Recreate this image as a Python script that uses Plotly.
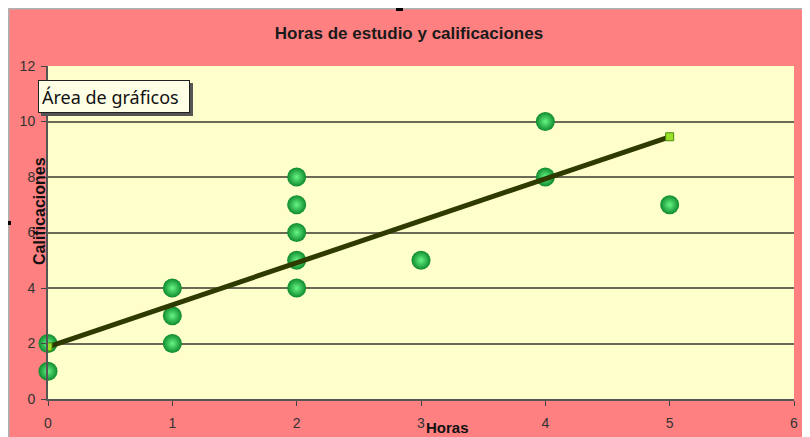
import plotly.graph_objects as go

horas = [0, 0, 1, 1, 1, 2, 2, 2, 2, 2, 3, 4, 4, 5]
calificaciones = [2, 1, 4, 3, 2, 8, 7, 6, 5, 4, 5, 10, 8, 7]
trend_x = [0, 5]
trend_y = [1.88, 9.45]
x_ticks = [0, 1, 2, 3, 4, 5, 6]
y_ticks = [0, 2, 4, 6, 8, 10, 12]

# page is offset by the default 8px body margin
O = 8
W, H = 810 - O, 437 - O
L, R, T, B = 48 - O, 16, 66 - O, 38
PW, PH = W - L - R, H - T - B

def px(x):
    return (x - O - L) / PW

def py(y):
    return (H - B - (y - O)) / PH

fig = go.Figure()

fig.add_trace(go.Scatter(
    x=horas, y=calificaciones, mode="markers",
    marker=dict(size=19, color="#0e8a2c", symbol="circle",
                gradient=dict(type="radial", color="#66f585"),
                line=dict(width=0)),
    hoverinfo="skip", showlegend=False, cliponaxis=False))

fig.add_trace(go.Scatter(
    x=trend_x, y=trend_y, mode="lines+markers",
    line=dict(color="#2e3a00", width=5),
    marker=dict(symbol="square", size=8, color="#99e028",
                line=dict(color="#4a8a10", width=1)),
    hoverinfo="skip", showlegend=False))

font_narrow = "Liberation Sans Narrow, Arial Narrow, Liberation Sans, Arial"

fig.update_layout(
    width=W, height=H,
    margin=dict(l=L, r=R, t=T, b=B, autoexpand=False),
    paper_bgcolor="#FF8080",
    plot_bgcolor="#FFFFCC",
    showlegend=False,
    title=dict(text="<b>Horas de estudio y calificaciones</b>",
               x=0.5, xanchor="center", y=1 - (33 - O) / H, yanchor="middle",
               font=dict(family=font_narrow, size=17, color="#1a1a1a")),
    xaxis=dict(range=[0, 6], tickvals=x_ticks, ticks="outside", ticklen=5,
               tickcolor="#444444", showgrid=False, zeroline=False,
               showline=True, linecolor="#555555", linewidth=2,
               ticklabelstandoff=5, automargin=False,
               tickfont=dict(family="Liberation Sans, Arial", size=14, color="#333333")),
    yaxis=dict(range=[0, 12], tickvals=y_ticks, ticks="outside", ticklen=5,
               tickcolor="#444444", showgrid=True, gridcolor="#6b6b55", gridwidth=2,
               zeroline=False, showline=True, linecolor="#555555", linewidth=2,
               ticklabelstandoff=3, automargin=False,
               tickfont=dict(family="Liberation Sans, Arial", size=14, color="#333333")),
    shapes=[
        dict(type="line", xref="paper", yref="paper", x0=px(8), x1=px(820),
             y0=py(8.5), y1=py(8.5), line=dict(color="#b0b0b0", width=2), layer="above"),
        dict(type="line", xref="paper", yref="paper", x0=px(8.5), x1=px(8.5),
             y0=py(8), y1=py(445), line=dict(color="#b0b0b0", width=2), layer="above"),
        dict(type="rect", xref="paper", yref="paper", x0=px(396), x1=px(403),
             y0=py(11), y1=py(8), fillcolor="black", line=dict(width=0), layer="above"),
        dict(type="rect", xref="paper", yref="paper", x0=px(8), x1=px(11),
             y0=py(225), y1=py(221), fillcolor="black", line=dict(width=0), layer="above"),
        dict(type="rect", xref="paper", yref="paper", x0=px(41), x1=px(193),
             y0=py(116), y1=py(83), fillcolor="#555555", line=dict(width=0), layer="above"),
    ],
    annotations=[
        dict(text="<b>Calificaciones</b>", xref="paper", yref="paper",
             x=px(40), y=py(211), textangle=-90, showarrow=False,
             xanchor="center", yanchor="middle",
             font=dict(family=font_narrow, size=16, color="#111111")),
        dict(text="<b>Horas</b>", xref="paper", yref="paper",
             x=px(424), y=py(427), showarrow=False,
             xanchor="left", yanchor="middle",
             font=dict(family=font_narrow, size=15, color="#111111")),
        dict(text="Área de gráficos", xref="paper", yref="paper",
             x=px(38), y=py(80), showarrow=False,
             xanchor="left", yanchor="top", align="left",
             width=144, height=25,
             bgcolor="#FFFFE6", bordercolor="#222222", borderwidth=1, borderpad=3,
             font=dict(family="Noto Sans, Open Sans, Arial", size=18, color="#111111")),
    ],
)

fig.write_html("out.html")
